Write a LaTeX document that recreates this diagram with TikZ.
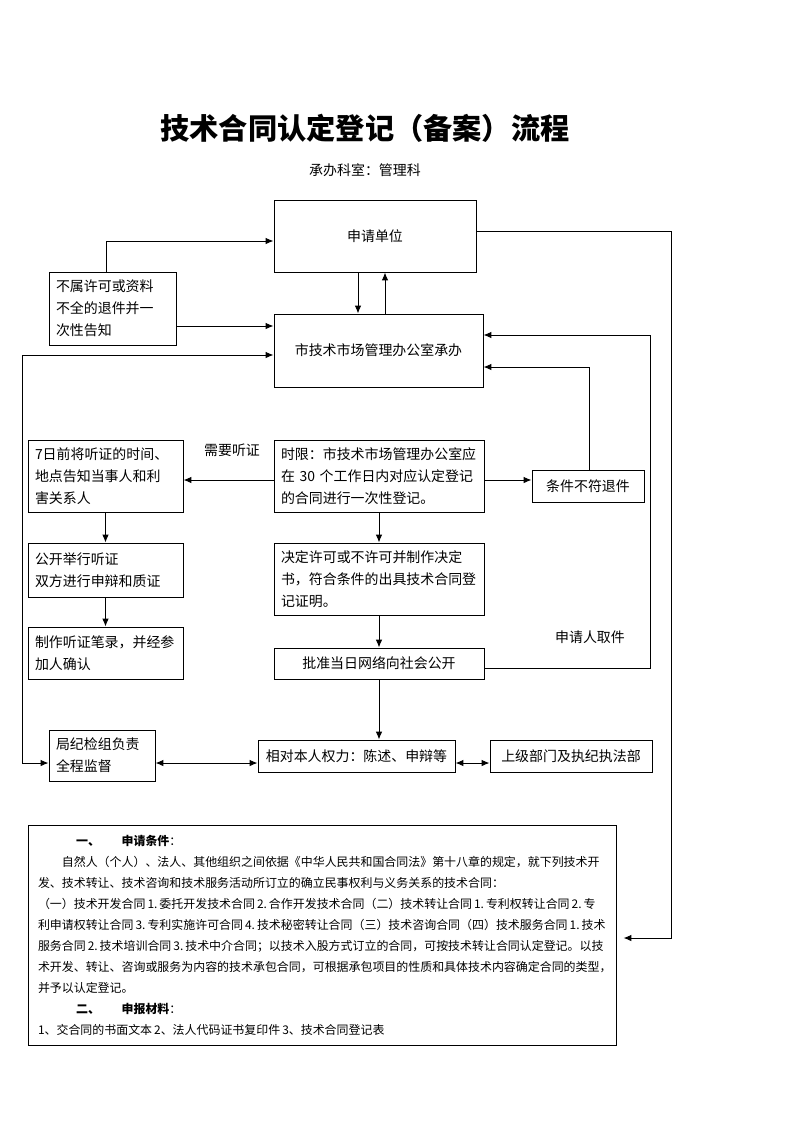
\documentclass[tikz,border=0pt]{standalone}
\usepackage{fontspec}
\setmainfont{Noto Sans CJK SC}
\usetikzlibrary{arrows.meta, calc}
\newlength\pxu
\setlength\pxu{0.02648cm}
\newcommand\titlefont{\fontsize{22pt}{26pt}\selectfont\bfseries}
\newcommand\boxfont{\fontsize{10.5pt}{16.5pt}\selectfont}
\newcommand\notefont{\fontsize{9pt}{15.8pt}\selectfont}

\begin{document}
\begin{tikzpicture}[x=0.02648cm,y=-0.02648cm,
  box/.style={draw, line width=0.75pt, inner sep=0pt, font=\boxfont, align=center},
  lbox/.style={box, align=left, inner xsep=7\pxu},
  arr/.style={-{Latex[length=6pt,width=5pt]}, line width=0.75pt},
  dbl/.style={{Latex[length=6pt,width=5pt]}-{Latex[length=6pt,width=5pt]}, line width=0.75pt}]
\path[use as bounding box, fill=white] (0,0) rectangle (793,1122);
\node[font=\titlefont] (title) at (365,128) {技术合同认定登记（备案）流程};
\node[font=\boxfont] (dept) at (365,170) {承办科室：管理科};
\node[box, minimum width=202\pxu, minimum height=72\pxu] (apply) at (375,236) {申请单位};
\node[lbox, text width=113\pxu, minimum width=127\pxu, minimum height=73\pxu] (reject) at (112.5,308.5) {不属许可或资料\\不全的退件并一\\次性告知};
\node[box, minimum width=209\pxu, minimum height=73\pxu] (office) at (378.5,350.5) {市技术市场管理办公室承办};
\node[lbox, text width=196\pxu, minimum width=210\pxu, minimum height=72\pxu] (limit) at (379,476) {时限：市技术市场管理办公室应\\在 30 个工作日内对应认定登记\\的合同进行一次性登记。};
\node[lbox, text width=141\pxu, minimum width=155\pxu, minimum height=72\pxu] (notice) at (105.5,476) {7日前将听证的时间、\\地点告知当事人和利\\害关系人};
\node[box, minimum width=112\pxu, minimum height=32\pxu] (notfit) at (588,486) {条件不符退件};
\node[lbox, text width=141\pxu, minimum width=155\pxu, minimum height=54\pxu] (hold) at (105.5,570) {公开举行听证\\双方进行申辩和质证};
\node[lbox, text width=141\pxu, minimum width=155\pxu, minimum height=52\pxu] (record) at (105.5,653) {制作听证笔录，并经参\\加人确认};
\node[lbox, text width=196\pxu, minimum width=210\pxu, minimum height=72\pxu] (decide) at (379,579) {决定许可或不许可并制作决定\\书，符合条件的出具技术合同登\\记证明。};
\node[box, minimum width=210\pxu, minimum height=31\pxu] (publish) at (379,663.5) {批准当日网络向社会公开};
\node[box, minimum width=197\pxu, minimum height=32\pxu] (rights) at (356.5,756) {相对本人权力：陈述、申辩等};
\node[lbox, text width=92\pxu, minimum width=106\pxu, minimum height=51\pxu] (supervise) at (102,755.5) {局纪检组负责\\全程监督};
\node[box, minimum width=162\pxu, minimum height=32\pxu] (upper) at (571,756) {上级部门及执纪执法部};
\node[font=\boxfont] (hearlbl) at (232,450) {需要听证};
\node[font=\boxfont] (pickup) at (590,637) {申请人取件};
% conditions and materials
\node[draw, line width=0.75pt, inner xsep=10\pxu, inner ysep=0pt, text width=568\pxu, minimum width=588\pxu, minimum height=220\pxu, align=left, font=\notefont] (cond) at (322,935) {%
\hspace*{3.2em}{\bfseries 一、}\hspace{1.8em}{\bfseries 申请条件}：\\
\hspace*{2em}自然人（个人）、法人、其他组织之间依据《中华人民共和国合同法》第十八章的规定，就下列技术开\\
发、技术转让、技术咨询和技术服务活动所订立的确立民事权利与义务关系的技术合同：\\
（一）技术开发合同\,1.\,委托开发技术合同\,2.\,合作开发技术合同（二）技术转让合同\,1.\,专利权转让合同\,2.\,专\\
利申请权转让合同\,3.\,专利实施许可合同\,4.\,技术秘密转让合同（三）技术咨询合同（四）技术服务合同\,1.\,技术\\
服务合同\,2.\,技术培训合同\,3.\,技术中介合同；以技术入股方式订立的合同，可按技术转让合同认定登记。以技\\
术开发、转让、咨询或服务为内容的技术承包合同，可根据承包项目的性质和具体技术内容确定合同的类型，\\
并予以认定登记。\\
\hspace*{3.2em}{\bfseries 二、}\hspace{1.8em}{\bfseries 申报材料}：\\
1、交合同的书面文本\,2、法人代码证书复印件\,3、技术合同登记表};
% connectors
\draw[arr] (reject.north -| 106,0) |- (apply.west |- 0,241);
\draw[arr] (reject.east |- 0,326) -- (office.west |- 0,326);
\draw[arr] (apply.south -| 358,0) -- (office.north -| 358,0);
\draw[arr] (office.north -| 385,0) -- (apply.south -| 385,0);
\draw[dbl] (office.west |- 0,355) -| (22,763) -- (supervise.west |- 0,763);
\draw[arr, shorten >=7\pxu] (apply.east |- 0,231) -| (671,938) -- (cond.east |- 0,938);
\draw[arr] (publish.east |- 0,668) -| (650,335) -- (office.east |- 0,335);
\draw[arr] (notfit.north -| 589,0) |- (office.east |- 0,367);
\draw[arr] (limit.east |- 0,480) -- (notfit.west |- 0,480);
\draw[arr] (limit.west |- 0,480) -- (notice.east |- 0,480);
\draw[arr] (notice.south) -- (hold.north);
\draw[arr] (hold.south) -- (record.north);
\draw[arr] (limit.south) -- (decide.north);
\draw[arr] (decide.south) -- (publish.north);
\draw[arr] (publish.south) -- (publish.south |- rights.north);
\draw[dbl] (supervise.east |- 0,763) -- (rights.west |- 0,763);
\draw[dbl] (rights.east |- 0,763) -- (upper.west |- 0,763);
\end{tikzpicture}
\end{document}
